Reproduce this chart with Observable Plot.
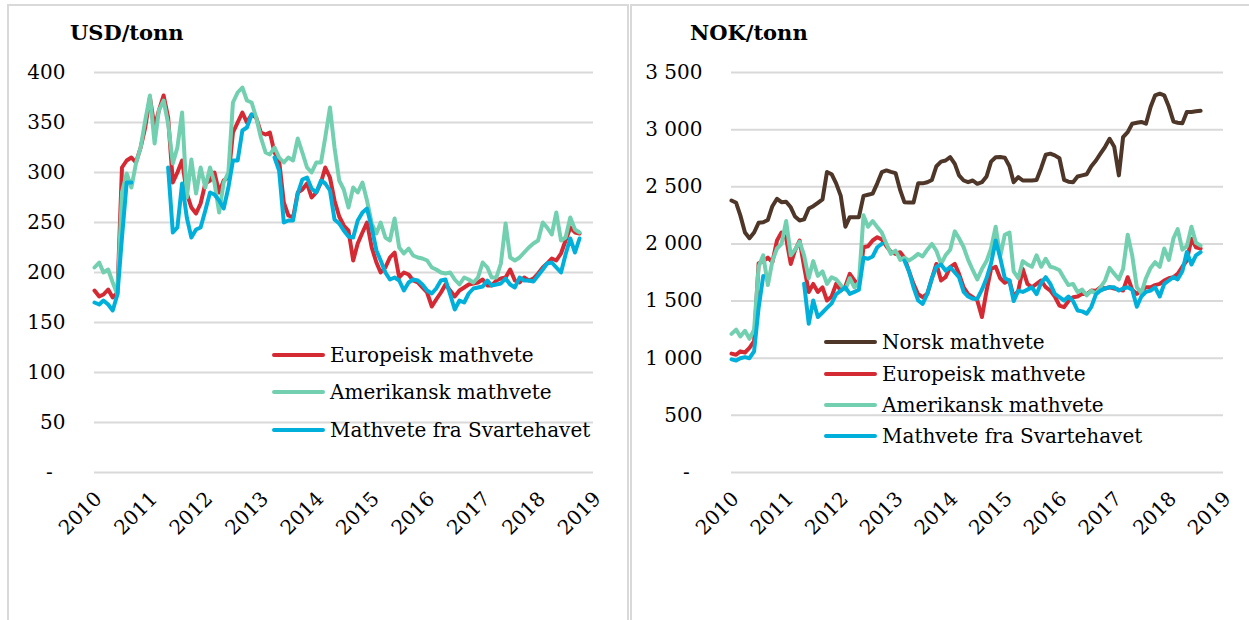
<!DOCTYPE html>
<html><head><meta charset="utf-8">
<script src="https://cdn.jsdelivr.net/npm/d3@7"></script>
<script src="https://cdn.jsdelivr.net/npm/@observablehq/plot@0.6"></script>
<style>
body{margin:0;background:#fff;}
#root{position:relative;width:1249px;height:620px;overflow:hidden;font-family:"DejaVu Serif",serif;color:#000;}
.panel{position:absolute;top:4px;border:2px solid #d9d9d9;height:700px;box-sizing:border-box;}
.title{position:absolute;font-weight:bold;font-size:21px;line-height:24px;}
.plot{position:absolute;top:0;}
.row{position:absolute;display:flex;align-items:center;white-space:nowrap;font-size:20px;height:24px;line-height:24px;}
.sw{width:53px;height:4px;margin-right:5px;border-radius:2px;}
</style></head>
<body><div id="root">
<div class="panel" style="left:7px;width:622px;"></div>
<div class="panel" style="left:630px;width:640px;"></div>
<div class="title" style="left:70px;top:21px;">USD/tonn</div>
<div class="title" style="left:690px;top:21px;">NOK/tonn</div>
</div>
<script>
// ---- data (monthly, Jan 2010 onward) ----
const eurUSD = [182,176,178,183,175,180,305,312,315,310,
325,345,375,345,362,377,355,290,300,312,
279,265,259,269,289,292,300,280,292,295,
340,350,360,350,358,355,340,338,340,320,
312,270,257,255,280,283,289,275,280,290,
305,295,272,256,247,242,212,229,240,250,
225,210,200,205,215,220,195,200,198,192,
190,185,180,166,173,180,188,182,176,182,
185,188,189,190,193,187,187,192,194,195,
203,192,190,195,192,194,199,205,209,214,
212,219,232,245,240,239];
const usaUSD = [205,210,200,203,190,178,280,299,285,309,
325,352,377,329,362,372,349,309,325,360,
275,313,279,305,285,305,290,260,290,300,
370,380,385,372,370,355,335,320,318,325,
315,310,315,312,334,320,305,300,310,310,
335,365,325,292,283,265,285,280,290,272,
249,239,250,235,232,254,225,219,224,217,
215,214,212,205,203,200,199,200,193,188,
195,193,190,195,210,205,195,195,209,249,
215,212,215,220,225,229,232,250,245,238,
260,232,235,255,243,240];
const bsUSD = [170,168,172,168,162,178,235,290,290,null,
null,null,null,null,null,null,305,240,245,289,
255,235,243,245,262,280,278,272,264,285,
312,312,342,345,358,null,null,null,null,315,
302,250,252,252,279,293,295,284,280,292,
289,282,253,249,242,236,235,252,260,264,
245,222,212,200,193,195,192,182,190,193,
192,188,182,179,184,192,193,178,163,172,
170,179,184,185,186,192,187,188,189,194,
188,185,195,192,192,191,197,203,209,210,
205,200,218,234,220,234];

const norNOK = [2380,2360,2250,2100,2050,2100,2185,2190,2210,2330,
2395,2365,2370,2320,2240,2205,2215,2310,2330,2360,
2390,2630,2610,2530,2420,2150,2234,2234,2234,2420,
2430,2440,2530,2628,2643,2630,2620,2470,2365,2362,
2362,2530,2530,2540,2560,2680,2720,2730,2760,2700,
2600,2555,2540,2555,2526,2540,2590,2720,2759,2760,
2755,2680,2540,2585,2555,2555,2555,2560,2665,2780,
2790,2775,2750,2560,2545,2540,2590,2600,2610,2680,
2730,2790,2850,2920,2850,2600,2934,2978,3052,3060,
3067,3052,3198,3300,3315,3300,3200,3070,3060,3055,
3155,3155,3160,3165];
const eurNOK = [1040,1030,1060,1050,1090,1150,1830,1850,1880,1840,
2030,2100,2050,1825,1942,2030,1800,1580,1650,1580,
1620,1505,1540,1650,1592,1630,1738,1680,1640,1971,
1980,2030,2059,2040,1980,1930,1913,1928,1880,1760,
1650,1560,1534,1563,1700,1825,1680,1709,1796,1825,
1738,1620,1560,1534,1505,1360,1590,1780,1800,1700,
1660,1680,1534,1592,1780,1651,1621,1651,1680,1621,
1592,1540,1460,1447,1500,1534,1540,1563,1560,1592,
1590,1621,1610,1621,1610,1600,1592,1709,1600,1563,
1592,1621,1621,1640,1651,1680,1700,1709,1738,1800,
1855,2045,1971,1960];
const usaNOK = [1213,1250,1190,1240,1170,1250,1800,1900,1640,1850,
1960,2000,2200,1900,1950,2020,1900,1700,1850,1720,
1760,1651,1709,1690,1640,1600,1700,1621,1660,2250,
2150,2200,2147,2100,2000,1913,1942,1860,1880,1855,
1880,1913,1890,1950,2000,1940,1825,1900,1950,2110,
2050,1971,1860,1770,1690,1780,1850,1960,2150,1890,
2080,2100,1760,1700,1850,1820,1800,1900,1800,1870,
1800,1790,1770,1700,1640,1650,1580,1600,1550,1590,
1565,1620,1680,1790,1740,1690,1780,2080,1900,1620,
1570,1700,1790,1840,1800,1960,1860,2050,2130,1950,
1980,2150,2010,1985];
const bsNOK = [990,980,1000,1010,1000,1060,1440,1720,null,null,
null,null,null,null,null,null,1651,1301,1505,1360,
1400,1440,1480,1560,1592,1621,1563,1580,1600,1880,
1870,1890,1971,2000,null,null,null,null,1855,1760,
1621,1505,1476,1563,1700,1800,1820,1767,1796,1750,
1709,1580,1540,1520,1520,1600,1700,1830,2030,1880,
1700,1680,1500,1590,1580,1600,1620,1560,1660,1709,
1651,1563,1534,1505,1540,1500,1418,1410,1390,1450,
1560,1592,1610,1621,1620,1592,1610,1621,1600,1450,
1540,1580,1592,1621,1540,1650,1680,1709,1690,1760,
1930,1820,1900,1928];

const yearLabels = [2010,2011,2012,2013,2014,2015,2016,2017,2018,2019];
const usdTicks = [0,50,100,150,200,250,300,350,400];
const nokTicks = [0,500,1000,1500,2000,2500,3000,3500];
const leftSeries = ["Europeisk mathvete","Amerikansk mathvete","Mathvete fra Svartehavet"];
const rightSeries = ["Norsk mathvete","Europeisk mathvete","Amerikansk mathvete","Mathvete fra Svartehavet"];

// ---- rendering ----
const C = {red:"#d42a33", green:"#72d0b0", blue:"#00b0da", brown:"#4e3629", grid:"#d9d9d9"};
const dates = d3.utcMonth.range(new Date(Date.UTC(2010,0,1)), new Date(Date.UTC(2019,0,1)));
const yearDates = yearLabels.map(y => new Date(Date.UTC(y,0,1)));
const rows = vals => vals.map((v,i) => ({date: dates[i], value: v}));
const zeroDash = "-\u00a0\u00a0";
const fmtUSD = d => d === 0 ? zeroDash : String(d);
const fmtNOK = d => d === 0 ? zeroDash : (d >= 1000 ? Math.floor(d/1000) + " " + String(d % 1000).padStart(3,"0") : String(d));
const style = {fontFamily:'"DejaVu Serif", serif', fontSize:"20px", color:"#000", background:"transparent", overflow:"visible"};
const lw = 4;

function panel(opts) {
  return Plot.plot({
    width: opts.width, height: 600,
    marginLeft: opts.ml, marginRight: opts.mr, marginTop: 72, marginBottom: 128,
    style,
    x: {type:"utc", domain:[yearDates[0], yearDates[yearDates.length-1]]},
    y: {domain:[0, opts.ticks[opts.ticks.length-1]]},
    marks: [
      Plot.ruleY(opts.ticks, {stroke: C.grid, strokeWidth: 2}),
      Plot.axisY({ticks: opts.ticks, tickSize: 0, tickPadding: 29, tickFormat: opts.fmt, label: null}),
      Plot.axisX({ticks: yearDates, tickSize: 0, tickPadding: 12, dy: 11, dx: 4, tickRotate: -45, tickFormat: d => String(d.getUTCFullYear()), label: null}),
      ...opts.lines.map(([vals, color]) => Plot.line(rows(vals), {x:"date", y:"value", stroke: color, strokeWidth: lw}))
    ]
  });
}

const root = document.getElementById("root");
const left = panel({width: 628, ml: 94, mr: 35, ticks: usdTicks, fmt: fmtUSD,
  lines: [[eurUSD, C.red], [usaUSD, C.green], [bsUSD, C.blue]]});
left.classList.add("plot"); left.style.left = "0px"; left.style.position = "absolute";
root.appendChild(left);
const right = panel({width: 619, ml: 101, mr: 26, ticks: nokTicks, fmt: fmtNOK,
  lines: [[norNOK, C.brown], [eurNOK, C.red], [usaNOK, C.green], [bsNOK, C.blue]]});
right.classList.add("plot"); right.style.left = "630px"; right.style.position = "absolute";
root.appendChild(right);

function legend(names, colors, x, ys) {
  names.forEach((n, i) => {
    const r = document.createElement("div");
    r.className = "row";
    r.style.left = x + "px"; r.style.top = (ys[i] - 12) + "px";
    const s = document.createElement("div"); s.className = "sw"; s.style.background = colors[i];
    const t = document.createElement("span"); t.textContent = n;
    r.appendChild(s); r.appendChild(t); root.appendChild(r);
  });
}
legend(leftSeries, [C.red, C.green, C.blue], 272, [355, 392, 430]);
legend(rightSeries, [C.brown, C.red, C.green, C.blue], 824, [342, 374, 405, 436]);
</script>
</body></html>
